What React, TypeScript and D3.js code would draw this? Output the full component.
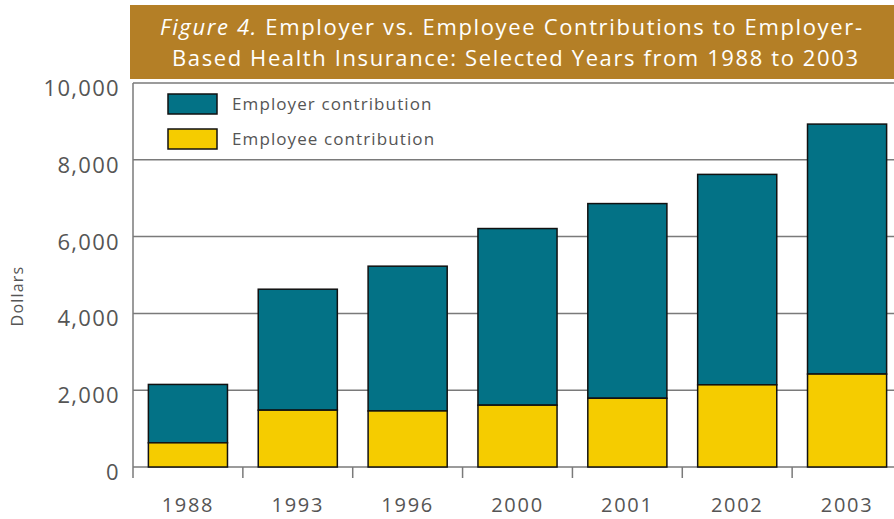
import React, { useRef, useEffect } from "react";
import * as d3 from "d3";

const years = ["1988", "1993", "1996", "2000", "2001", "2002", "2003"];
const employee = [630, 1480, 1460, 1610, 1790, 2140, 2420];
const employer = [1520, 3150, 3770, 4600, 5070, 5480, 6510];
const yTicks = [0, 2000, 4000, 6000, 8000, 10000];
const seriesNames = ["Employer contribution", "Employee contribution"];

const colorEmployer = "#037286";
const colorEmployee = "#F5CC00";
const gridColor = "#7a7a7a";
const textColor = "#555";
const font = "'Open Sans', sans-serif";

const App: React.FC = () => {
  const ref = useRef<SVGSVGElement | null>(null);

  useEffect(() => {
    if (!ref.current) return;
    const width = 894;
    const height = 519;
    const svg = d3.select(ref.current);
    svg.selectAll("*").remove();

    const x = d3.scaleBand<string>().domain(years).range([133, 902]).paddingInner(0.28).paddingOuter(0.14);
    const xEdge = d3.scaleBand<string>().domain(years).range([133, 902]);
    const y = d3.scaleLinear().domain([0, 10000]).range([467, 83]);

    // title box
    svg.append("rect").attr("x", 130).attr("y", 5).attr("width", width - 130).attr("height", 74).attr("fill", "#B47F26");
    const title = svg.append("g").attr("fill", "#fff").attr("font-family", font)
      .attr("font-size", 22).attr("text-anchor", "middle");
    const t1 = title.append("text").attr("x", 511).attr("y", 35)
      .attr("textLength", 702).attr("lengthAdjust", "spacing");
    t1.append("tspan").attr("font-style", "italic").text("Figure 4.");
    t1.append("tspan").text(" Employer vs. Employee Contributions to Employer-");
    title.append("text").attr("x", 515).attr("y", 66)
      .attr("textLength", 686).attr("lengthAdjust", "spacing")
      .text("Based Health Insurance: Selected Years from 1988 to 2003");

    // gridlines
    svg.append("g").selectAll("line").data(yTicks).join("line")
      .attr("x1", 133).attr("x2", width).attr("y1", d => y(d)).attr("y2", d => y(d))
      .attr("stroke", gridColor).attr("stroke-width", 1.5);

    // axis lines and ticks at band edges
    svg.append("line").attr("x1", 133).attr("x2", 133).attr("y1", y(10000)).attr("y2", 478)
      .attr("stroke", gridColor).attr("stroke-width", 1.5);
    svg.append("g").selectAll("line").data(years.slice(1)).join("line")
      .attr("x1", d => xEdge(d)!).attr("x2", d => xEdge(d)!).attr("y1", 467).attr("y2", 478)
      .attr("stroke", gridColor).attr("stroke-width", 1.5);

    // y labels
    svg.append("g").selectAll("text").data(yTicks).join("text")
      .attr("x", 120).attr("y", d => y(d) + 13).attr("text-anchor", "end")
      .attr("font-family", font).attr("font-size", 22).attr("letter-spacing", 1.3).attr("fill", textColor)
      .text(d => d3.format(",")(d));

    svg.append("text").attr("transform", "translate(23,296) rotate(-90)").attr("text-anchor", "middle")
      .attr("font-family", font).attr("font-size", 16).attr("letter-spacing", 1.2).attr("fill", textColor).text("Dollars");

    // x labels
    svg.append("g").selectAll("text").data(years).join("text")
      .attr("x", d => x(d)! + x.bandwidth() / 2).attr("y", 512).attr("text-anchor", "middle")
      .attr("font-family", font).attr("font-size", 20).attr("letter-spacing", 1.7).attr("fill", textColor)
      .text(d => d);

    // bars
    const bars = svg.append("g").attr("stroke", "#111").attr("stroke-width", 1.5);
    bars.selectAll("rect.emp").data(years).join("rect").attr("class", "emp")
      .attr("x", d => x(d)!).attr("width", x.bandwidth())
      .attr("y", (_d, i) => y(employee[i] + employer[i]))
      .attr("height", (_d, i) => y(employee[i]) - y(employee[i] + employer[i]))
      .attr("fill", colorEmployer);
    bars.selectAll("rect.ee").data(years).join("rect").attr("class", "ee")
      .attr("x", d => x(d)!).attr("width", x.bandwidth())
      .attr("y", (_d, i) => y(employee[i]))
      .attr("height", (_d, i) => y(0) - y(employee[i]))
      .attr("fill", colorEmployee);

    // legend
    const legend = svg.append("g").selectAll("g").data(seriesNames).join("g")
      .attr("transform", (_d, i) => `translate(168,${94 + i * 35})`);
    legend.append("rect").attr("width", 49).attr("height", 20)
      .attr("fill", (_d, i) => (i === 0 ? colorEmployer : colorEmployee))
      .attr("stroke", "#111").attr("stroke-width", 1.5);
    legend.append("text").attr("x", 64).attr("y", 16)
      .attr("font-family", font).attr("font-size", 17).attr("letter-spacing", 1.1).attr("fill", textColor)
      .text(d => d);

    svg.attr("width", width).attr("height", height);
  }, []);

  return <svg ref={ref} style={{ position: "absolute", left: 0, top: 0, overflow: "hidden" }}></svg>;
};

export default App;
